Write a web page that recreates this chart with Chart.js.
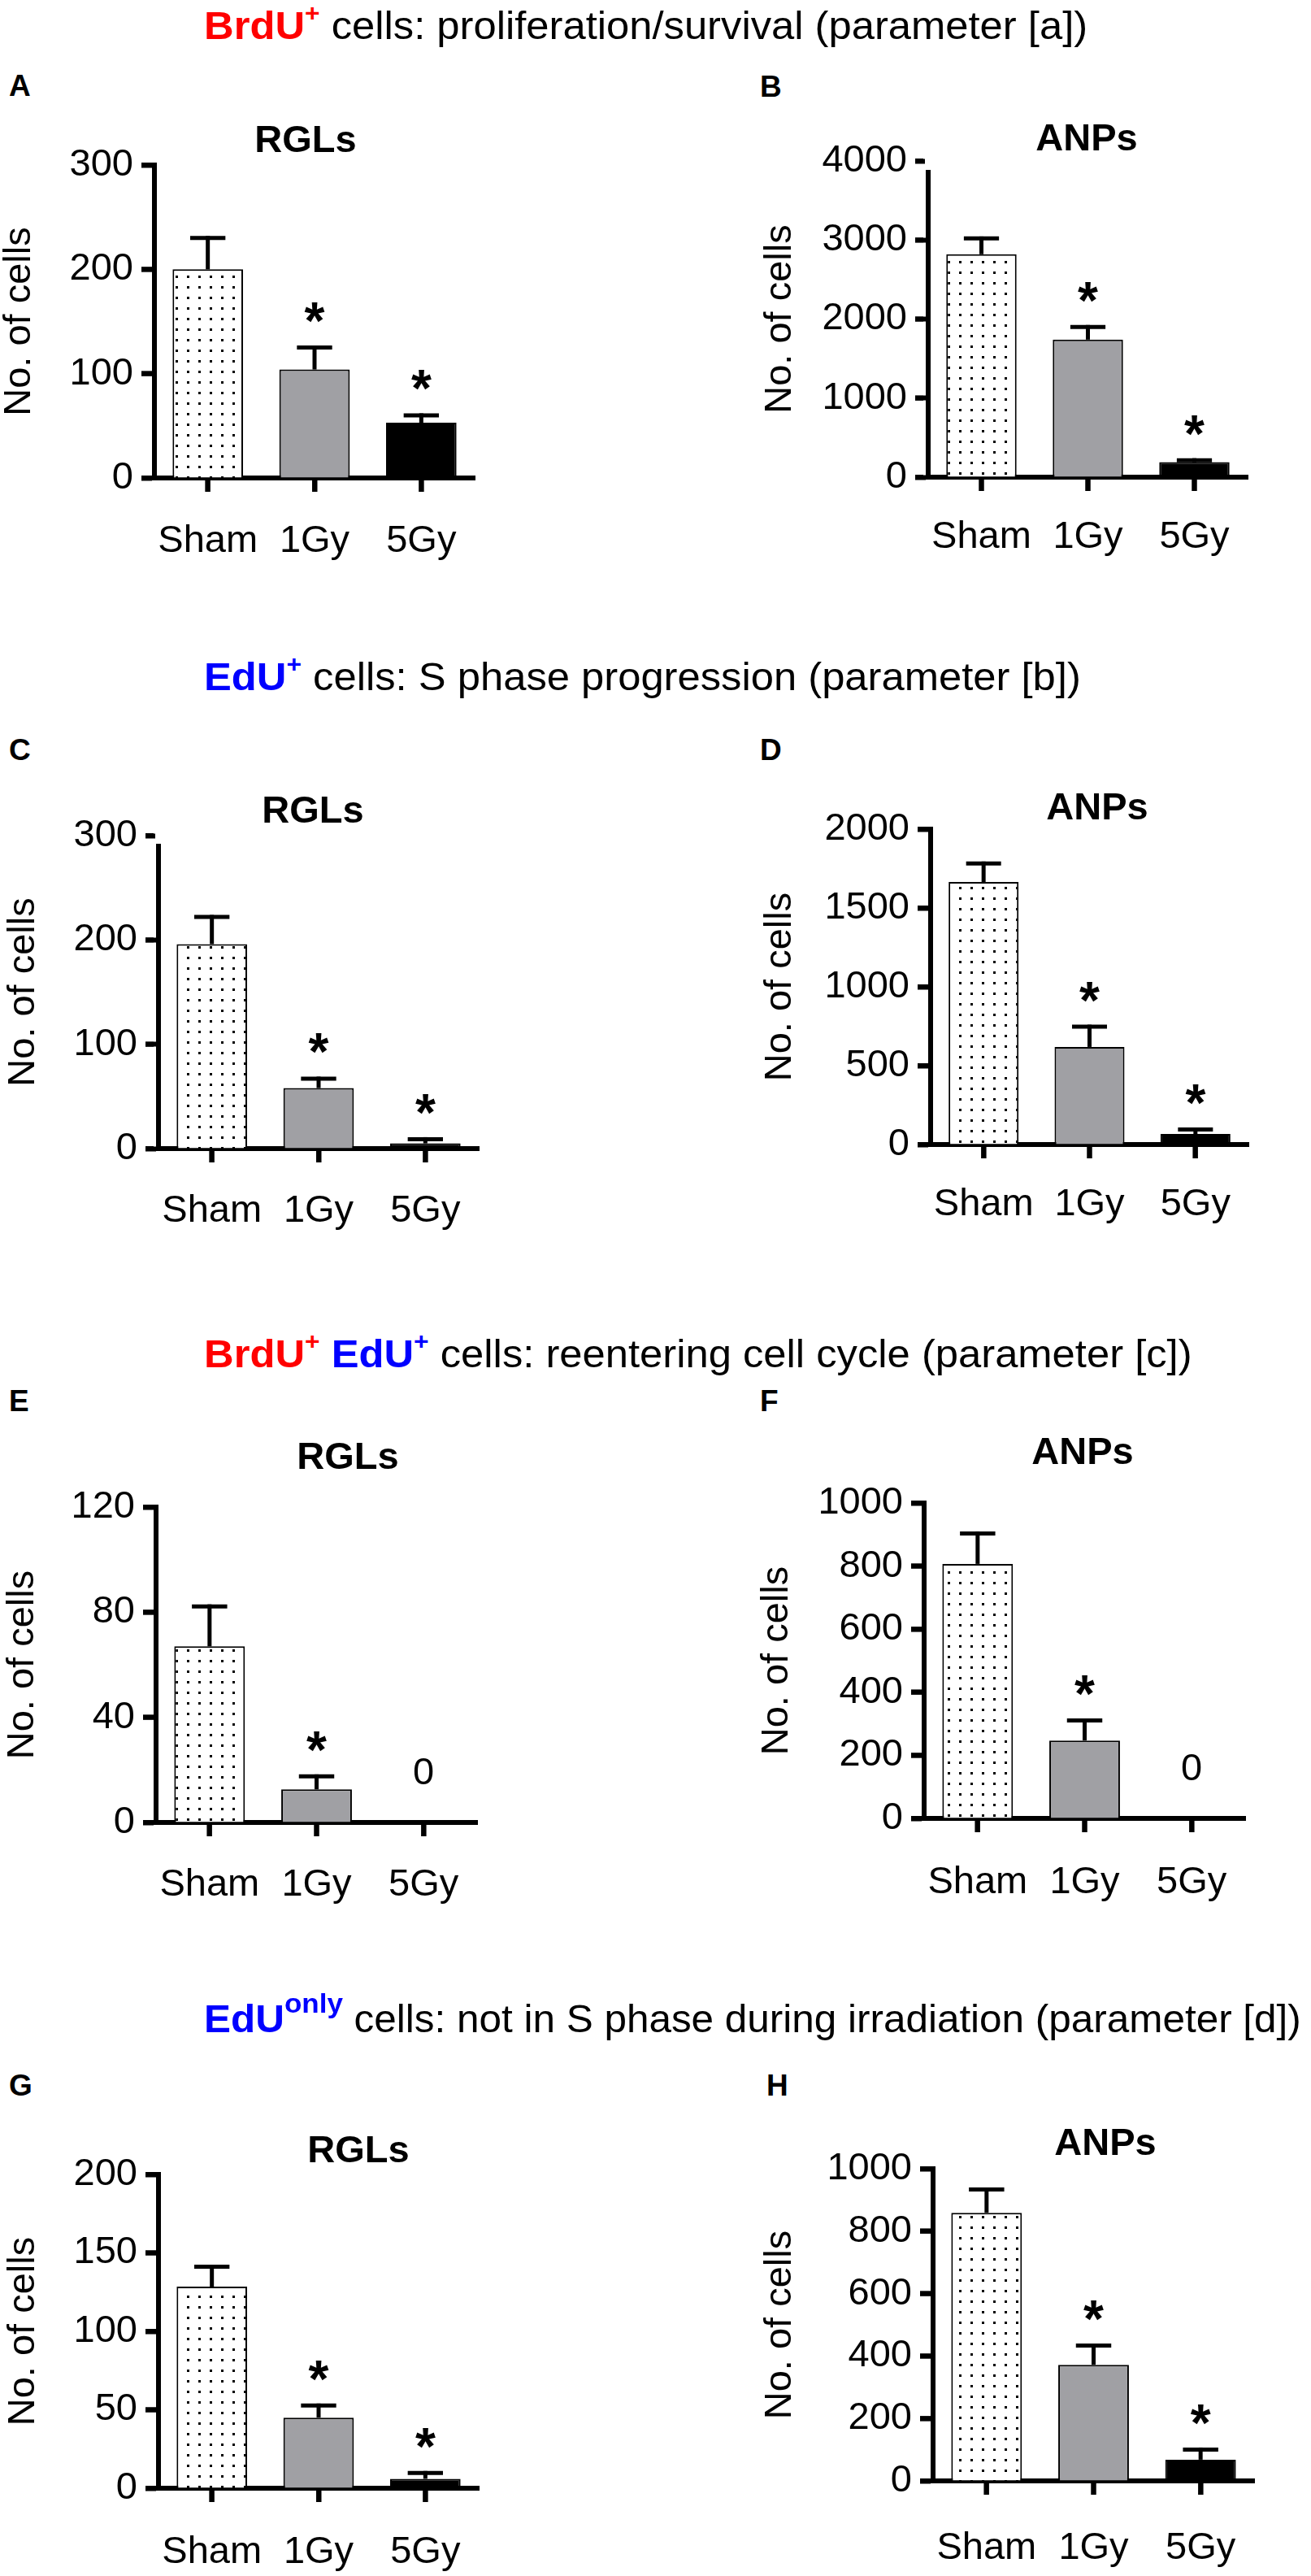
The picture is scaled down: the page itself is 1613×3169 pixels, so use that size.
<!DOCTYPE html>
<html>
<head>
<meta charset="utf-8">
<script src="https://cdn.jsdelivr.net/npm/chart.js@4.4.1/dist/chart.umd.min.js"></script>
<style>
body { margin: 0; background: #fff; width: 1613px; height: 3169px; position: relative; overflow: hidden;
       font-family: 'Liberation Sans', Arial, sans-serif; color: #000; }
canvas { position: absolute; }
.head { position: absolute; left: 251px; font-size: 48px; line-height: 48px; white-space: nowrap;
        transform: scaleX(1.057); transform-origin: 0 0; }
.red { color: #ff0000; }
.blue { color: #0000ff; }
.sup { position: relative; font-size: 30px; font-weight: bold; top: -22px; }
.only { position: relative; font-size: 34px; font-weight: bold; top: -24px; }
.letter { position: absolute; font-size: 37px; line-height: 37px; font-weight: bold; }
</style>
</head>
<body>

<div class="head" style="top:8px"><b class="red">BrdU</b><span class="sup red">+</span> cells: proliferation/survival (parameter [a])</div>
<div class="head" style="top:809px"><b class="blue">EdU</b><span class="sup blue">+</span> cells: S phase progression (parameter [b])</div>
<div class="head" style="top:1642px"><b class="red">BrdU</b><span class="sup red">+</span> <b class="blue">EdU</b><span class="sup blue">+</span> cells: reentering cell cycle (parameter [c])</div>
<div class="head" style="top:2460px;transform:scaleX(1.03)"><b class="blue">EdU</b><span class="only blue">only</span> cells: not in S phase during irradiation (parameter [d])</div>

<div class="letter" style="left:11px;top:87px">A</div>
<div class="letter" style="left:935px;top:88px">B</div>
<div class="letter" style="left:11px;top:904px">C</div>
<div class="letter" style="left:935px;top:904px">D</div>
<div class="letter" style="left:11px;top:1705px">E</div>
<div class="letter" style="left:935px;top:1705px">F</div>
<div class="letter" style="left:11px;top:2547px">G</div>
<div class="letter" style="left:943px;top:2547px">H</div>

<canvas id="A"></canvas>
<canvas id="B"></canvas>
<canvas id="C"></canvas>
<canvas id="D"></canvas>
<canvas id="E"></canvas>
<canvas id="F"></canvas>
<canvas id="G"></canvas>
<canvas id="H"></canvas>

<script>
// categories
var groups = ['Sham', '1Gy', '5Gy']

// BrdU+ (parameter a)
var brduRGL = [200, 104, 53]
var brduRGLerr = [32, 23, 9]
var brduANP = [2820, 1740, 190]
var brduANPerr = [225, 185, 50]

// EdU+ (parameter b)
var eduRGL = [196, 58, 5]
var eduRGLerr = [28, 11, 6]
var eduANP = [1665, 619, 67]
var eduANPerr = [130, 141, 41]

// BrdU+ EdU+ (parameter c)
var bothRGL = [67, 12.6, 0]
var bothRGLerr = [16, 5.7, 0]
var bothANP = [807, 247, 0]
var bothANPerr = [103, 70, 0]

// EdU only (parameter d)
var onlyRGL = [128.5, 45, 6]
var onlyRGLerr = [14, 9, 5]
var onlyANP = [859, 372, 68]
var onlyANPerr = [81, 68, 39]

// y axis ticks: min, max, step
var ticksRGL300 = [0, 300, 100]
var ticksANP4000 = [0, 4000, 1000]
var ticksANP2000 = [0, 2000, 500]
var ticksRGL120 = [0, 120, 40]
var ticksANP1000 = [0, 1000, 200]
var ticksRGL200 = [0, 200, 50]

// significance marks above bars
var marksStar = ['', '*', '*']
var marksZero = ['', '*', '0']

var FONT = "'Liberation Sans', Arial, sans-serif"
Chart.defaults.font.family = FONT
Chart.defaults.color = '#000'

// dotted fill for the sham bars
function dotPattern() {
    var c = document.createElement('canvas')
    c.width = 14
    c.height = 13
    var g = c.getContext('2d')
    g.fillStyle = '#fff'
    g.fillRect(0, 0, 14, 13)
    g.fillStyle = '#000'
    g.fillRect(6, 5, 3, 3)
    return g.createPattern(c, 'repeat')
}

// tick marks outside the axes, taken from the chart's own scales
var axisTicks = {
    id: 'axisTicks',
    afterDraw: function(chart) {
        var ctx = chart.ctx
        var x = chart.scales.x
        var y = chart.scales.y
        var area = chart.chartArea
        var gap = chart.options.plugins.axisTicks.gap
        ctx.save()
        if (gap) {
            // axis line stops a little below the top tick (as in the original)
            ctx.fillStyle = '#fff'
            ctx.fillRect(area.left - 4, area.top - 4, 8, gap + 4)
        }
        ctx.strokeStyle = '#000'
        ctx.lineWidth = 6
        x.ticks.forEach(function(t, i) {
            var px = x.getPixelForTick(i)
            ctx.beginPath()
            ctx.moveTo(px, area.bottom)
            ctx.lineTo(px, area.bottom + 17)
            ctx.stroke()
        })
        y.ticks.forEach(function(t) {
            var py = y.getPixelForValue(t.value)
            ctx.beginPath()
            ctx.moveTo(area.left - 16, py)
            ctx.lineTo(area.left - (gap ? 6 : 0), py)
            ctx.stroke()
        })
        ctx.restore()
    }
}

var errorBars = {
    id: 'errorBars',
    afterDatasetsDraw: function(chart) {
        var ctx = chart.ctx
        var ds = chart.data.datasets[0]
        var meta = chart.getDatasetMeta(0)
        var y = chart.scales.y
        ctx.save()
        ctx.strokeStyle = '#000'
        ctx.fillStyle = '#000'
        ctx.lineWidth = 5
        meta.data.forEach(function(bar, i) {
            var v = ds.data[i]
            var e = ds.errors[i]
            var yTop = y.getPixelForValue(v)
            var yErr = y.getPixelForValue(v + e)
            if (e > 0) {
                ctx.beginPath()
                ctx.moveTo(bar.x, yTop)
                ctx.lineTo(bar.x, yErr)
                ctx.stroke()
                ctx.beginPath()
                ctx.moveTo(bar.x - bar.width / 4, yErr + 2.5)
                ctx.lineTo(bar.x + bar.width / 4, yErr + 2.5)
                ctx.stroke()
            }
            var m = ds.marks[i]
            if (m === '*') {
                ctx.font = 'bold 64px ' + FONT
                ctx.textAlign = 'center'
                ctx.textBaseline = 'alphabetic'
                var d = ctx.measureText('*').actualBoundingBoxDescent
                ctx.fillText('*', bar.x, yErr - 28 - d)
            } else if (m === '0') {
                ctx.font = '47px ' + FONT
                ctx.textAlign = 'center'
                ctx.textBaseline = 'alphabetic'
                ctx.fillText('0', bar.x, y.getPixelForValue(0) - 47)
            }
        })
        ctx.restore()
    }
}

var panelTitle = {
    id: 'panelTitle',
    afterDraw: function(chart) {
        var p = chart.options.plugins.panelTitle
        var ctx = chart.ctx
        ctx.save()
        ctx.font = 'bold 47px ' + FONT
        ctx.fillStyle = '#000'
        ctx.textAlign = 'center'
        ctx.textBaseline = 'alphabetic'
        ctx.fillText(p.text, p.x, p.y)
        ctx.restore()
    }
}

// where each panel sits on the page
var panels = [
    {id: 'A', name: 'RGLs', data: brduRGL, err: brduRGLerr, marks: marksStar, ticks: ticksRGL300, gap: 0,
     L: 0, axisX: 190, right: 584, top: 203, zero: 588, yTitle: 24, xPad: 32.5, tX: 376, tY: 187},
    {id: 'B', name: 'ANPs', data: brduANP, err: brduANPerr, marks: marksStar, ticks: ticksANP4000, gap: 11,
     L: 880, axisX: 1142, right: 1535, top: 198, zero: 587, yTitle: 960, xPad: 28.5, tX: 1337, tY: 185},
    {id: 'C', name: 'RGLs', data: eduRGL, err: eduRGLerr, marks: marksStar, ticks: ticksRGL300, gap: 10,
     L: 0, axisX: 195, right: 589, top: 1028, zero: 1413, yTitle: 29, xPad: 31.5, tX: 385, tY: 1012},
    {id: 'D', name: 'ANPs', data: eduANP, err: eduANPerr, marks: marksStar, ticks: ticksANP2000, gap: 0,
     L: 880, axisX: 1145, right: 1536, top: 1020, zero: 1408, yTitle: 960, xPad: 28.5, tX: 1350, tY: 1008},
    {id: 'E', name: 'RGLs', data: bothRGL, err: bothRGLerr, marks: marksZero, ticks: ticksRGL120, gap: 0,
     L: 0, axisX: 192, right: 587, top: 1854, zero: 2242, yTitle: 28, xPad: 31.5, tX: 428, tY: 1807},
    {id: 'F', name: 'ANPs', data: bothANP, err: bothANPerr, marks: marksZero, ticks: ticksANP1000, gap: 0,
     L: 880, axisX: 1137, right: 1532, top: 1849, zero: 2237, yTitle: 956, xPad: 33.5, tX: 1332, tY: 1801},
    {id: 'G', name: 'RGLs', data: onlyRGL, err: onlyRGLerr, marks: marksStar, ticks: ticksRGL200, gap: 0,
     L: 0, axisX: 195, right: 589, top: 2675, zero: 3061, yTitle: 29, xPad: 33.5, tX: 441, tY: 2660},
    {id: 'H', name: 'ANPs', data: onlyANP, err: onlyANPerr, marks: marksStar, ticks: ticksANP1000, gap: 0,
     L: 880, axisX: 1148, right: 1543, top: 2668, zero: 3052, yTitle: 960, xPad: 37.5, tX: 1360, tY: 2651}
]

panels.forEach(function(p) {
    var W = p.L === 0 ? 660 : 700
    var T = p.top - 90
    var bottom = Math.min(p.zero + 140, 3169)
    var H = bottom - T
    var cv = document.getElementById(p.id)
    cv.width = W
    cv.height = H
    cv.style.left = p.L + 'px'
    cv.style.top = T + 'px'

    new Chart(cv.getContext('2d'), {
        type: 'bar',
        data: {
            labels: groups,
            datasets: [{
                data: p.data,
                errors: p.err,
                marks: p.marks,
                backgroundColor: [dotPattern(), '#a0a0a4', '#000000'],
                borderColor: '#000',
                borderWidth: 2,
                barPercentage: 0.66,
                categoryPercentage: 1
            }]
        },
        options: {
            responsive: false,
            animation: false,
            devicePixelRatio: 1,
            layout: { padding: { left: 0, top: p.top - T, right: p.L + W - p.right, bottom: 0 } },
            plugins: {
                legend: { display: false },
                tooltip: { enabled: false },
                axisTicks: { gap: p.gap },
                panelTitle: { text: p.name, x: p.tX - p.L, y: p.tY - T }
            },
            scales: {
                x: {
                    offset: true,
                    grid: { display: true, drawOnChartArea: false, drawTicks: true, offset: false, tickLength: 17, tickWidth: 6, color: '#000' },
                    border: { display: true, width: 6, color: '#000' },
                    ticks: { color: '#000', font: { size: 47 }, padding: p.xPad, maxRotation: 0, minRotation: 0, autoSkip: false },
                    afterFit: function(s) { s.height = bottom - p.zero }
                },
                y: {
                    min: p.ticks[0],
                    max: p.ticks[1],
                    grid: { display: true, drawOnChartArea: false, drawTicks: true, tickLength: 16, tickWidth: 6, color: '#000' },
                    border: { display: true, width: 6, color: '#000' },
                    ticks: { stepSize: p.ticks[2], color: '#000', font: { size: 47 }, padding: 10,
                             callback: function(v) { return String(v) } },
                    title: { display: true, text: 'No. of cells', color: '#000', font: { size: 47, lineHeight: 1 },
                             padding: { top: p.yTitle - p.L - 23.5, bottom: 0 } },
                    afterFit: function(s) { s.width = p.axisX - p.L }
                }
            }
        },
        plugins: [axisTicks, errorBars, panelTitle]
    })
})
</script>
</body>
</html>
